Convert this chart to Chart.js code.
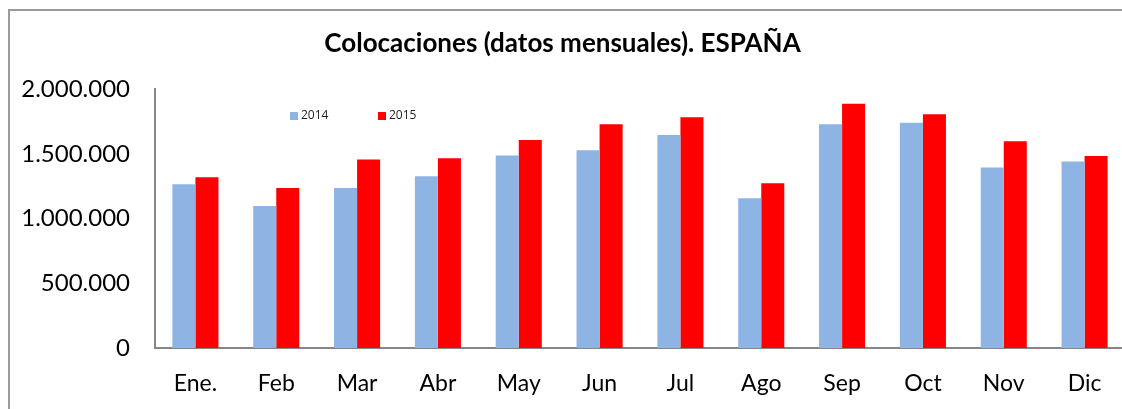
<!DOCTYPE html>
<html>
<head>
<meta charset="utf-8">
<script src="https://cdn.jsdelivr.net/npm/chart.js@4"></script>
<style>
  html, body { margin: 0; padding: 0; background: #fff; overflow: hidden; }
  #wrap { position: relative; width: 1122px; height: 409px; overflow: hidden; }
  #frame { position: absolute; left: 8px; top: 9px; width: 1200px; height: 500px; border: 2px solid #9a9a9a; box-sizing: border-box; }
  canvas { position: absolute; left: 0; top: 0; }
</style>
</head>
<body>
<div id="wrap">
  <div id="frame"></div>
  <canvas id="chart" width="1130" height="409" style="width:1130px;height:409px"></canvas>
</div>
<script>
const months = ['Ene.', 'Feb', 'Mar', 'Abr', 'May', 'Jun', 'Jul', 'Ago', 'Sep', 'Oct', 'Nov', 'Dic'];
const values2014 = [1266000, 1097000, 1236000, 1328000, 1488000, 1529000, 1647000, 1158000, 1730000, 1740000, 1395000, 1442000];
const values2015 = [1320000, 1236000, 1457000, 1467000, 1608000, 1730000, 1784000, 1274000, 1887000, 1807000, 1598000, 1483000];
const yTicks = [0, 500000, 1000000, 1500000, 2000000];

function fmt(v) {
    // thousands with dots, spanish style
    return String(v).replace(/\B(?=(\d{3})+(?!\d))/g, '.');
}

// small legend drawn inside the plot, like the original
const innerLegend = {
    id: 'innerLegend',
    afterDraw(chart) {
        const ctx = chart.ctx;
        const items = [{ x: 290, label: '2014' }, { x: 378, label: '2015' }];
        ctx.save();
        ctx.font = '12px "Open Sans", Lato, sans-serif';
        ctx.textBaseline = 'middle';
        items.forEach((it, i) => {
            ctx.fillStyle = chart.data.datasets[i].backgroundColor;
            ctx.fillRect(it.x, 112, 8, 8);
            ctx.fillStyle = '#222';
            ctx.fillText(chart.data.datasets[i].label, it.x + 11, 116);
        });
        ctx.restore();
    }
};

let ctx = document.getElementById('chart').getContext('2d');
new Chart(ctx, {
    type: 'bar',
    data: {
        labels: months,
        datasets: [{
            label: '2014',
            data: values2014,
            backgroundColor: '#8EB4E3',
            categoryPercentage: 0.57,
            barPercentage: 1.0
        }, {
            label: '2015',
            data: values2015,
            backgroundColor: '#FF0000',
            categoryPercentage: 0.57,
            barPercentage: 1.0
        }]
    },
    options: {
        responsive: false,
        animation: false,
        layout: { padding: { left: 0, right: 5, top: 0, bottom: 0 } },
        scales: {
            x: {
                grid: { display: false, drawTicks: false },
                border: { color: '#868686', width: 2 },
                ticks: { color: '#000', font: { family: 'Lato, "Open Sans", sans-serif', size: 23 }, padding: 22 },
                afterFit(scale) { scale.height = 61; }
            },
            y: {
                min: 0,
                max: 2000000,
                afterBuildTicks(scale) { scale.ticks = yTicks.map(v => ({ value: v })); },
                grid: { display: false, drawTicks: false },
                border: { color: '#868686', width: 2 },
                ticks: {
                    color: '#000',
                    font: { family: 'Lato, "Open Sans", sans-serif', size: 24 },
                    padding: 25,
                    callback: v => fmt(v)
                },
                afterFit(scale) { scale.width = 155; }
            }
        },
        plugins: {
            legend: { display: false },
            tooltip: { enabled: false },
            title: {
                display: true,
                text: 'Colocaciones (datos mensuales). ESPAÑA',
                color: '#000',
                font: { family: 'Lato, "Open Sans", sans-serif', size: 26, weight: 'bold' },
                padding: { top: 28, bottom: 30 }
            }
        }
    },
    plugins: [innerLegend]
});
</script>
</body>
</html>
